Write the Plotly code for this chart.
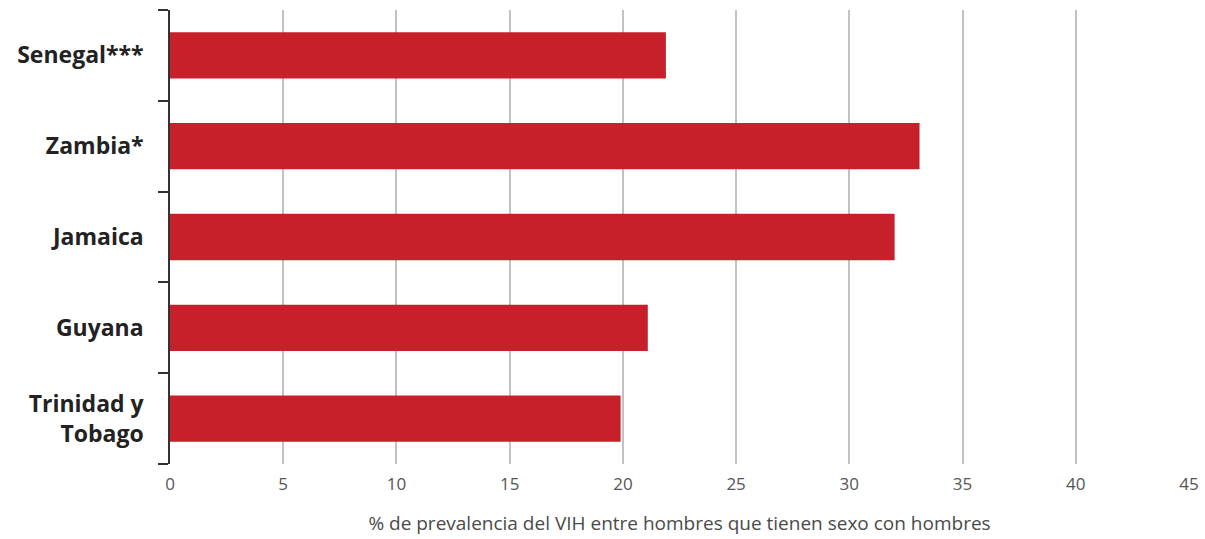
import plotly.graph_objects as go

# datos
paises = ["Senegal***", "Zambia*", "Jamaica", "Guyana", "Trinidad y<br>Tobago"]
prevalencia = [21.9, 33.1, 32.0, 21.1, 19.9]
ticks_x = [0, 5, 10, 15, 20, 25, 30, 35, 40, 45]

fig = go.Figure()

fig.add_trace(
    go.Bar(
        x=prevalencia,
        y=paises,
        orientation="h",
        marker=dict(color="#c8202a", line=dict(width=0)),
        hoverinfo="x+y",
    )
)

fig.update_layout(
    width=1205,
    height=539,
    margin=dict(l=170, r=16, t=10, b=75),
    paper_bgcolor="white",
    plot_bgcolor="white",
    bargap=0.49,
    showlegend=False,
    font=dict(family="Open Sans, Noto Sans, sans-serif"),
    xaxis=dict(
        range=[0, 45],
        tickvals=ticks_x,
        automargin=False,
        showgrid=True,
        gridcolor="#c2c2c2",
        gridwidth=1.5,
        zeroline=False,
        showline=False,
        ticks="",
        ticklabelstandoff=8,
        tickfont=dict(size=17, color="#555555"),
        title=dict(
            text="% de prevalencia del VIH entre hombres que tienen sexo con hombres",
            font=dict(size=19, color="#4a4a4a"),
            standoff=22,
        ),
    ),
    yaxis=dict(
        categoryorder="array",
        categoryarray=paises[::-1],
        automargin=False,
        showline=True,
        linecolor="#333333",
        linewidth=1.5,
        ticks="outside",
        tickson="boundaries",
        ticklen=10,
        tickcolor="#333333",
        tickwidth=1.5,
        ticklabelstandoff=20,
        tickfont=dict(size=23, color="#222222", family="Open Sans, Noto Sans, sans-serif", weight="bold"),
        showgrid=False,
    ),
)

# quitar el margen del body para que la figura ocupe la ventana completa
fig.write_html(
    "out.html",
    config={"displayModeBar": False},
    post_script="document.body.style.margin='0';document.body.style.overflow='hidden';",
)
